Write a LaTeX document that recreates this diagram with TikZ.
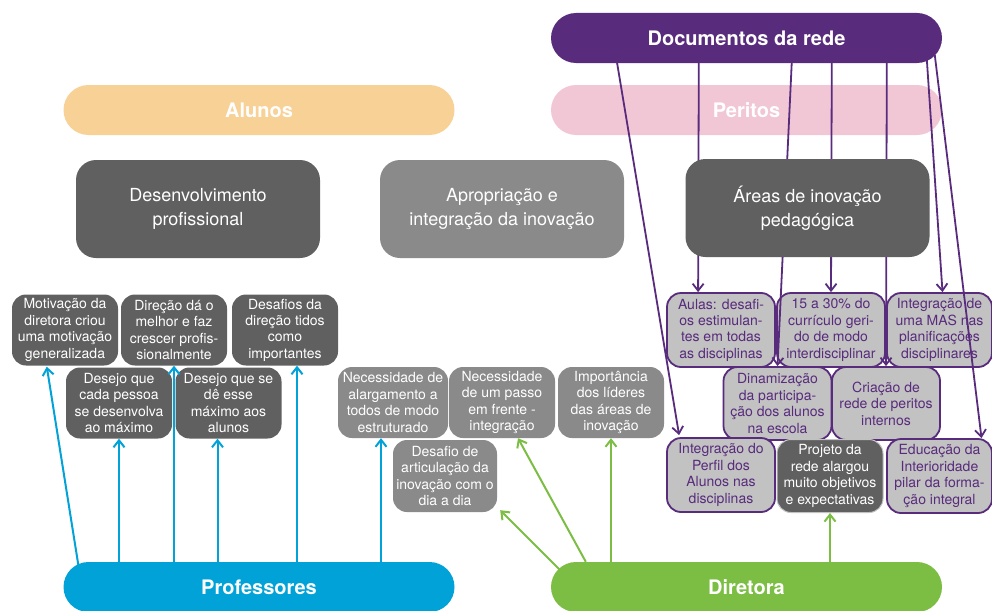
\documentclass[tikz,border=0pt]{standalone}
\usepackage{fontspec}
\setmainfont{TeX Gyre Heros}
\usetikzlibrary{arrows.meta,calc}

\definecolor{docpurple}{RGB}{88,43,124}
\definecolor{peritopink}{RGB}{242,199,213}
\definecolor{alunoorange}{RGB}{248,209,150}
\definecolor{profblue}{RGB}{0,162,216}
\definecolor{dirgreen}{RGB}{124,189,67}
\definecolor{darkbox}{RGB}{96,96,96}
\definecolor{midbox}{RGB}{138,138,138}
\definecolor{lightbox}{RGB}{194,194,194}

\pgfdeclarelayer{front}
\pgfsetlayers{main,front}

\tikzset{
  bar/.style={rounded corners=25pt, minimum width=391pt, minimum height=50pt,
    inner sep=0pt, text=white, font=\fontsize{20}{22}\selectfont\bfseries},
  bigbox/.style={rounded corners=20pt, minimum width=244pt, minimum height=98pt,
    inner sep=0pt, text=white, align=center, font=\fontsize{18}{24}\selectfont},
  smallbox/.style={rounded corners=14pt, minimum width=106pt, minimum height=71pt,
    inner sep=0pt, align=center, text=white, fill=darkbox,
    font=\fontsize{14}{16.4}\selectfont},
  midsmall/.style={smallbox, fill=midbox, minimum width=108pt},
  pbox/.style={smallbox, fill=lightbox, draw=docpurple, line width=1.8pt,
    text=docpurple, minimum width=106pt, minimum height=72pt},
  tipstyle/.style={-{Straight Barb[length=7pt,width=11pt]}, line width=2pt},
  barr/.style={tipstyle, draw=profblue},
  garr/.style={tipstyle, draw=dirgreen},
  parr/.style={tipstyle, draw=docpurple, line width=1.8pt},
}

\begin{document}
\begin{tikzpicture}[x=1pt,y=-1pt]
\useasboundingbox (0,0) rectangle (992,610);

% bands
\node[bar, fill=alunoorange] (alunos) at (259,110) {Alunos};
\node[bar, fill=peritopink] (peritos) at (746.5,110) {Peritos};
\node[bar, fill=profblue] (prof) at (259,587) {Professores};
\node[bar, fill=dirgreen] (dira) at (746.5,587) {Diretora};
\begin{pgfonlayer}{front}
\node[bar, fill=docpurple] (doc) at (746.5,38) {Documentos da rede};
\end{pgfonlayer}

% themes
\node[bigbox, fill=darkbox] (dev) at (198,209) {Desenvolvimento\\profissional};
\node[bigbox, fill=midbox] (apr) at (502,209) {Apropriação e\\integração da inovação};
\begin{pgfonlayer}{front}
\node[bigbox, fill=darkbox] (are) at (807.5,208) {Áreas de inovação\\pedagógica};
\end{pgfonlayer}

% professional development
\node[smallbox] (mot) at (65,330) {Motivação da\\diretora criou\\uma motivação\\generalizada};
\node[smallbox] (dir) at (174,330) {Direção dá o\\melhor e faz\\crescer profis-\\sionalmente};
\node[smallbox] (des) at (285,330) {Desafios da\\direção tidos\\como\\importantes};
\node[smallbox] (dcp) at (119,403) {Desejo que\\cada pessoa\\se desenvolva\\ao máximo};
\node[smallbox] (dse) at (228.5,403) {Desejo que se\\dê esse\\máximo aos\\alunos};

% appropriation
\node[midsmall, minimum width=110pt] (nal) at (393,402.5) {Necessidade de\\alargamento a\\todos de modo\\estruturado};
\node[midsmall, minimum width=106pt] (npa) at (502,402.5) {Necessidade\\de um passo\\em frente -\\integração};
\node[midsmall, minimum width=106pt] (imp) at (611,402.5) {Importância\\dos líderes\\das áreas de\\inovação};
\node[midsmall, minimum width=104pt, minimum height=72pt] (dar) at (445,476) {Desafio de\\articulação da\\inovação com o\\dia a dia};

% pedagogical innovation
\node[pbox, minimum width=108pt, minimum height=74pt] (aul) at (721,330) {Aulas: desafi-\\os estimulan-\\tes em todas\\as disciplinas};
\node[pbox, minimum width=108pt, minimum height=74pt] (cur) at (831,330) {15 a 30\% do\\currículo geri-\\do de modo\\interdisciplinar};
\node[pbox, minimum width=105pt, minimum height=74pt] (mas) at (939.5,330) {Integração de\\uma MAS nas\\planificações\\disciplinares};
\node[pbox, minimum width=108pt, minimum height=73pt] (din) at (777.5,403.5) {Dinamização\\da participa-\\ção dos alunos\\na escola};
\node[pbox, minimum width=108pt, minimum height=73pt] (cri) at (886,403.5) {Criação de\\rede de peritos\\internos};
\node[pbox, minimum width=108pt, minimum height=74pt] (per) at (721,475) {Integração do\\Perfil dos\\Alunos nas\\disciplinas};
\node[smallbox, draw=lightbox, line width=1pt, minimum width=106pt, minimum height=73pt] (prj) at (830,476) {Projeto da\\rede alargou\\muito objetivos\\e expectativas};
\node[pbox, minimum width=105pt, minimum height=74pt] (edu) at (939.5,476) {Educação da\\Interioridade\\pilar da forma-\\ção integral};

% teachers
\draw[barr] ($(prof.north west)+(15,3)$) -- ($(mot.south west)+(35,1)$);
\draw[barr] (prof.north -| dcp.south) -- (dcp.south);
\draw[barr] (prof.north -| dir.south) -- (dir.south);
\draw[barr] ($(prof.north -| dse.south)+(-11,0)$) -- ($(dse.south)+(-11,0)$);
\draw[barr] ($(prof.north -| des.south)+(12,0)$) -- ($(des.south)+(12,0)$);
\draw[barr] ($(prof.north -| nal.south)+(-12,0)$) -- ($(nal.south)+(-12,0)$);

% principal
\draw[garr] ($(dira.north west)+(9,8)$) -- ($(dar.south east)+(3,-2)$);
\draw[garr] ($(dira.north west)+(35,0)$) -- ($(npa.south)+(16,0)$);
\draw[garr] (dira.north -| imp.south) -- (imp.south);
\draw[garr] (dira.north -| prj.south) -- (prj.south);

% network documents
\draw[parr] ($(doc.south west)+(66,-2)$) -- ($(per.north west)+(13,-2)$);
\draw[parr] ($(doc.south west)+(148,-2)$) -- ($(aul.north west)+(32,0)$);
\draw[parr] ($(doc.south west)+(241,-2)$) -- (din.north);
\draw[parr] ($(doc.south west)+(281,-2)$) -- (cur.north);
\draw[parr] ($(doc.south west)+(336,-2)$) -- (cri.north);
\draw[parr] ($(doc.south west)+(376,-4)$) -- ($(mas.north)+(3,0)$);
\draw[parr] ($(doc.south west)+(384,-8)$) -- ($(edu.north)+(42,0)$);
\end{tikzpicture}
\end{document}
